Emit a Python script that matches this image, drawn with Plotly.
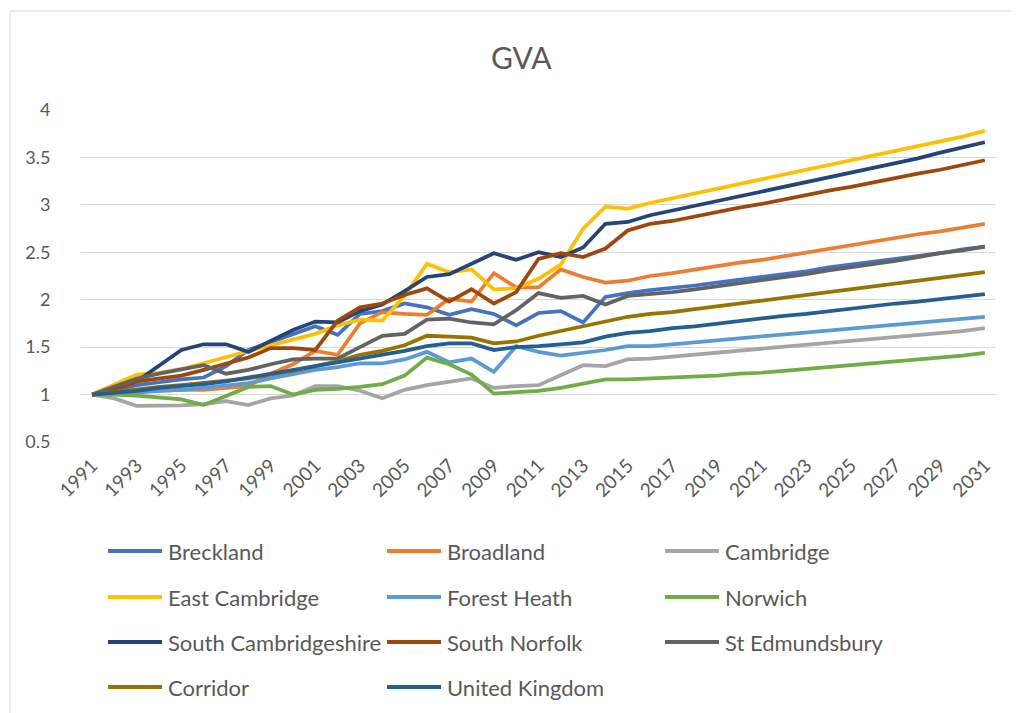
import plotly.graph_objects as go

years = list(range(1991, 2032))
tick_years = list(range(1991, 2032, 2))
tick_labels = [str(y) for y in tick_years]
y_ticks = [0.5, 1, 1.5, 2, 2.5, 3, 3.5, 4]
y_tick_labels = ["0.5", "1", "1.5", "2", "2.5", "3", "3.5", "4"]

series_names = ["Breckland", "Broadland", "Cambridge", "East Cambridge", "Forest Heath",
                "Norwich", "South Cambridgeshire", "South Norfolk", "St Edmundsbury",
                "Corridor", "United Kingdom"]
series_colors = ["#4472C4", "#ED7D31", "#A5A5A5", "#FFC000", "#5B9BD5",
                 "#70AD47", "#264478", "#9E480E", "#636363", "#997300", "#255E91"]

breckland = [1.00, 1.05, 1.10, 1.13, 1.16, 1.18, 1.30, 1.47, 1.55, 1.63,
             1.72, 1.63, 1.85, 1.88, 1.96, 1.92, 1.84, 1.90, 1.85, 1.73,
             1.86, 1.88, 1.76, 2.03, 2.07, 2.10, 2.12, 2.15, 2.18, 2.21,
             2.24, 2.27, 2.30, 2.34, 2.37, 2.40, 2.43, 2.46, 2.49, 2.53, 2.56]
broadland = [1.00, 1.02, 1.03, 1.04, 1.05, 1.05, 1.07, 1.09, 1.22, 1.32,
             1.46, 1.42, 1.75, 1.87, 1.85, 1.84, 2.01, 1.98, 2.28, 2.13,
             2.13, 2.32, 2.24, 2.18, 2.20, 2.25, 2.28, 2.32, 2.35, 2.39,
             2.42, 2.46, 2.50, 2.54, 2.57, 2.61, 2.65, 2.69, 2.72, 2.76, 2.80]
cambridge = [1.00, 0.96, 0.88, 0.88, 0.885, 0.90, 0.93, 0.89, 0.96, 0.99,
             1.09, 1.09, 1.04, 0.96, 1.05, 1.10, 1.13, 1.17, 1.07, 1.09,
             1.10, 1.21, 1.31, 1.30, 1.37, 1.38, 1.40, 1.42, 1.44, 1.46,
             1.48, 1.50, 1.52, 1.54, 1.56, 1.58, 1.60, 1.62, 1.64, 1.67, 1.70]
east_cambridge = [1.00, 1.10, 1.21, 1.23, 1.27, 1.33, 1.40, 1.46, 1.52, 1.58,
                  1.64, 1.73, 1.79, 1.78, 2.04, 2.38, 2.29, 2.32, 2.11, 2.12,
                  2.22, 2.37, 2.75, 2.98, 2.96, 3.02, 3.07, 3.12, 3.17, 3.22,
                  3.27, 3.32, 3.37, 3.42, 3.47, 3.52, 3.57, 3.62, 3.67, 3.72, 3.78]
forest_heath = [1.00, 1.01, 1.02, 1.04, 1.05, 1.07, 1.09, 1.12, 1.17, 1.21,
                1.26, 1.29, 1.33, 1.33, 1.37, 1.45, 1.34, 1.38, 1.24, 1.51,
                1.45, 1.41, 1.44, 1.47, 1.51, 1.51, 1.53, 1.55, 1.57, 1.59,
                1.61, 1.63, 1.65, 1.67, 1.69, 1.71, 1.73, 1.75, 1.77, 1.79, 1.82]
norwich = [1.00, 1.00, 0.99, 0.97, 0.95, 0.89, 0.99, 1.08, 1.09, 1.00,
           1.05, 1.06, 1.08, 1.11, 1.20, 1.39, 1.32, 1.21, 1.01, 1.03,
           1.04, 1.07, 1.12, 1.16, 1.16, 1.17, 1.18, 1.19, 1.20, 1.22,
           1.23, 1.25, 1.27, 1.29, 1.31, 1.33, 1.35, 1.37, 1.39, 1.41, 1.44]
south_cambs = [1.00, 1.06, 1.14, 1.30, 1.47, 1.53, 1.53, 1.45, 1.56, 1.68,
               1.77, 1.76, 1.88, 1.95, 2.09, 2.24, 2.27, 2.38, 2.49, 2.42,
               2.50, 2.45, 2.55, 2.80, 2.82, 2.89, 2.94, 2.99, 3.04, 3.09,
               3.14, 3.19, 3.24, 3.29, 3.34, 3.39, 3.44, 3.49, 3.55, 3.60, 3.66]
south_norfolk = [1.00, 1.05, 1.14, 1.17, 1.20, 1.26, 1.32, 1.39, 1.49, 1.49,
                 1.47, 1.78, 1.92, 1.96, 2.05, 2.12, 1.98, 2.11, 1.96, 2.08,
                 2.43, 2.49, 2.45, 2.54, 2.73, 2.80, 2.83, 2.88, 2.92, 2.97,
                 3.01, 3.06, 3.10, 3.15, 3.19, 3.24, 3.28, 3.33, 3.37, 3.42, 3.47]
st_edmundsbury = [1.00, 1.08, 1.17, 1.22, 1.27, 1.31, 1.22, 1.26, 1.32, 1.37,
                  1.38, 1.38, 1.50, 1.62, 1.64, 1.79, 1.80, 1.76, 1.74, 1.89,
                  2.07, 2.02, 2.04, 1.95, 2.04, 2.06, 2.08, 2.11, 2.14, 2.17,
                  2.20, 2.24, 2.27, 2.31, 2.34, 2.38, 2.41, 2.45, 2.49, 2.52, 2.56]
corridor = [1.00, 1.03, 1.06, 1.08, 1.10, 1.12, 1.14, 1.17, 1.21, 1.25,
            1.30, 1.35, 1.42, 1.46, 1.52, 1.62, 1.61, 1.60, 1.54, 1.56,
            1.62, 1.67, 1.72, 1.77, 1.82, 1.85, 1.87, 1.90, 1.93, 1.96,
            1.99, 2.02, 2.05, 2.08, 2.11, 2.14, 2.17, 2.20, 2.23, 2.26, 2.29]
united_kingdom = [1.00, 1.02, 1.04, 1.07, 1.09, 1.11, 1.14, 1.18, 1.22, 1.26,
                  1.30, 1.34, 1.38, 1.42, 1.46, 1.51, 1.54, 1.54, 1.47, 1.50,
                  1.51, 1.53, 1.55, 1.61, 1.65, 1.67, 1.70, 1.72, 1.75, 1.77,
                  1.80, 1.83, 1.85, 1.88, 1.91, 1.93, 1.96, 1.98, 2.01, 2.04, 2.06]

series_values = [breckland, broadland, cambridge, east_cambridge, forest_heath, norwich,
                 south_cambs, south_norfolk, st_edmundsbury, corridor, united_kingdom]

FONT = "Lato, 'Open Sans', sans-serif"
TXT = "#595959"
OFF = 8  # page body margin
W, H = 1019 - OFF, 713 - OFF
L, R, T, B = 81 - OFF, 996 - OFF, 110 - OFF, 442 - OFF  # plot area in figure pixels


def xp(px):
    # px given in screenshot pixels
    return (px - OFF - L) / (R - L)


def yp(py):
    return (B - (py - OFF)) / (B - T)


fig = go.Figure()
for name, vals, col in zip(series_names, series_values, series_colors):
    fig.add_trace(go.Scatter(x=years, y=vals, mode="lines", name=name,
                             line=dict(color=col, width=3.75), showlegend=False))

shapes = []
annotations = []
# chart border
shapes.append(dict(type="rect", xref="paper", yref="paper",
                   x0=xp(10), x1=xp(1040), y0=yp(760), y1=yp(11),
                   line=dict(color="#D9D9D9", width=1), fillcolor="rgba(0,0,0,0)",
                   layer="below"))
# title
annotations.append(dict(text="GVA", xref="paper", yref="paper", x=xp(521), y=yp(57),
                        showarrow=False, xanchor="center", yanchor="middle",
                        font=dict(family=FONT, size=30, color=TXT)))
# manual legend, 3 columns
col_x = [108, 387, 665]
row_y = [551, 597, 642, 687]
for i, (name, col) in enumerate(zip(series_names, series_colors)):
    cx = col_x[i % 3]
    ry = row_y[i // 3]
    shapes.append(dict(type="line", xref="paper", yref="paper",
                       x0=xp(cx), x1=xp(cx + 54), y0=yp(ry), y1=yp(ry),
                       line=dict(color=col, width=4)))
    annotations.append(dict(text=name, xref="paper", yref="paper",
                            x=xp(cx + 58), y=yp(ry), showarrow=False,
                            xanchor="left", yanchor="middle",
                            font=dict(family=FONT, size=22, color=TXT)))

fig.update_layout(
    width=W, height=H,
    margin=dict(l=L, r=W - R, t=T, b=H - B, autoexpand=False),
    paper_bgcolor="white", plot_bgcolor="white",
    shapes=shapes, annotations=annotations,
    xaxis=dict(range=[1990.5, 2031.5], tickmode="array", tickvals=tick_years,
               ticktext=tick_labels, tickangle=-45, showgrid=False, zeroline=False,
               showline=False, ticks="outside", ticklen=4, tickcolor="rgba(0,0,0,0)",
               tickfont=dict(family=FONT, size=19, color=TXT)),
    yaxis=dict(range=[0.5, 4.0], tickmode="array", tickvals=y_ticks,
               ticktext=y_tick_labels, showgrid=True, gridcolor="#D9D9D9",
               gridwidth=1, zeroline=False, showline=False,
               ticks="outside", ticklen=26, tickcolor="rgba(0,0,0,0)",
               tickfont=dict(family=FONT, size=18, color=TXT)),
)

fig.write_html("out.html")
